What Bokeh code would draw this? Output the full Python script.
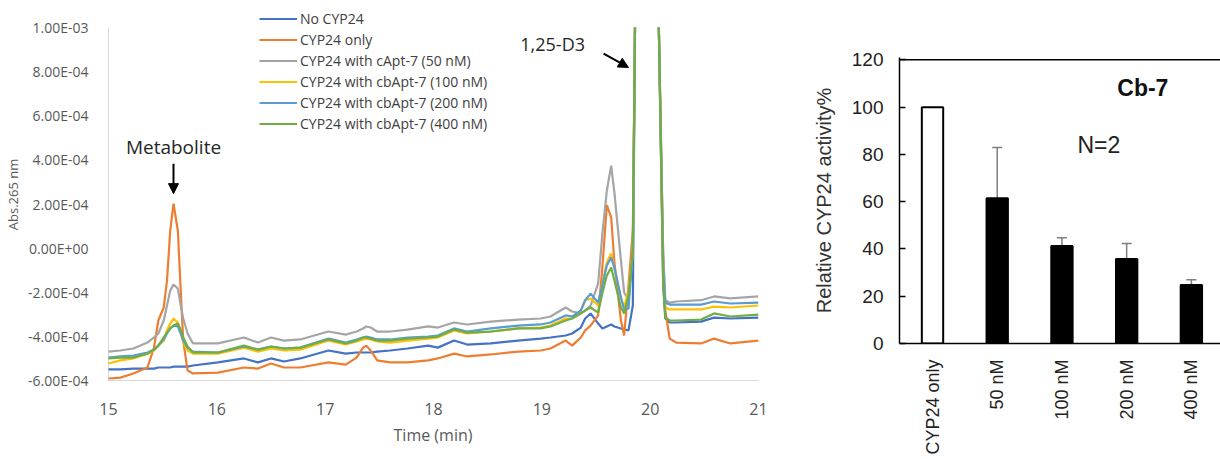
import math
from bokeh.plotting import figure
from bokeh.layouts import row, column
from bokeh.models import (ColumnDataSource, Range1d, FixedTicker, CustomJSTickFormatter,
                          Legend, LegendItem, Label, Arrow, NormalHead, Whisker, TeeHead,
                          Span)
from bokeh.embed import file_html
from bokeh.resources import INLINE

NAN = float("nan")  # apex of the 1,25-D3 peak is off scale (not visible)

# ---------------- data: chromatogram (Abs. 265 nm, in units of 1e-4) ----------------
time_min = [15.00, 15.11, 15.23, 15.36, 15.42, 15.46, 15.51, 15.54, 15.57, 15.60,
            15.64, 15.67, 15.69, 15.73, 15.78, 16.01, 16.25, 16.38, 16.50, 16.62,
            16.77, 17.03, 17.19, 17.29, 17.35, 17.38, 17.42, 17.48, 17.60, 17.76,
            17.95, 18.04, 18.19, 18.31, 18.53, 18.78, 18.99, 19.08, 19.22, 19.28,
            19.36, 19.40, 19.45, 19.52, 19.56, 19.60, 19.64, 19.67, 19.73, 19.76,
            19.80, 19.84, 19.86, 19.96, 20.04, 20.08, 20.12, 20.14, 20.18, 20.24,
            20.47, 20.59, 20.74, 21.00]

no_cyp24_e4 = [-5.50, -5.50, -5.46, -5.46, -5.46, -5.41, -5.41, -5.41, -5.41, -5.37,
               -5.37, -5.37, -5.37, -5.37, -5.32, -5.18, -5.00, -5.18, -5.00, -5.14,
               -5.00, -4.64, -4.78, -4.73, -4.73, -4.73, -4.73, -4.69, -4.64, -4.55,
               -4.42, -4.51, -4.19, -4.37, -4.32, -4.19, -4.10, -4.05, -3.96, -3.87,
               -3.60, -3.19, -2.96, -3.42, -3.64, -3.55, -3.46, -3.55, -3.64, -3.69,
               -3.73, -2.60, 10.0, NAN, NAN, 10.0, -1.70, -3.19, -3.37, -3.37,
               -3.33, -3.15, -3.19, -3.15]

cyp24_only_e4 = [-5.91, -5.87, -5.68, -5.41, -4.51, -3.28, -2.69, -1.47, 0.80, 2.02,
                 0.80, -2.24, -4.19, -5.55, -5.68, -5.64, -5.41, -5.46, -5.23, -5.41,
                 -5.41, -5.18, -5.28, -4.96, -4.51, -4.42, -4.64, -5.09, -5.18, -5.18,
                 -5.09, -5.00, -4.78, -4.91, -4.82, -4.69, -4.64, -4.55, -4.19, -4.42,
                 -4.05, -3.73, -3.51, -3.05, -0.79, 1.95, 1.40, -0.65, -3.28, -3.96,
                 -1.70, 0.80, 10.0, NAN, NAN, 10.0, -0.34, -2.83, -4.10, -4.28,
                 -4.32, -4.10, -4.32, -4.19]

capt7_50_e4 = [-4.69, -4.64, -4.55, -4.28, -4.05, -3.87, -3.28, -2.60, -1.92, -1.65,
               -1.83, -2.69, -3.19, -3.87, -4.32, -4.32, -4.05, -4.28, -4.05, -4.19,
               -4.14, -3.78, -3.92, -3.78, -3.64, -3.55, -3.60, -3.78, -3.78, -3.69,
               -3.55, -3.60, -3.37, -3.46, -3.33, -3.24, -3.19, -3.10, -2.69, -2.87,
               -2.96, -2.83, -2.60, -1.60, 0.71, 2.61, 3.74, 2.52, -0.56, -2.01,
               -2.36, -0.20, 10.0, NAN, NAN, 10.0, -0.11, -2.36, -2.47, -2.42,
               -2.36, -2.19, -2.28, -2.19]

cbapt7_100_e4 = [-5.23, -5.09, -5.00, -4.78, -4.64, -4.42, -4.19, -3.73, -3.42, -3.19,
                 -3.37, -3.87, -4.28, -4.64, -4.78, -4.78, -4.51, -4.69, -4.55, -4.64,
                 -4.60, -4.19, -4.37, -4.23, -4.14, -4.10, -4.14, -4.23, -4.28, -4.19,
                 -4.10, -4.05, -3.73, -3.87, -3.78, -3.64, -3.60, -3.51, -3.19, -3.19,
                 -2.83, -2.36, -2.28, -2.60, -1.56, -0.65, -0.24, -0.92, -2.24, -2.69,
                 -1.92, -0.11, 10.0, NAN, NAN, 10.0, -1.24, -2.69, -2.78, -2.78,
                 -2.78, -2.65, -2.69, -2.60]

cbapt7_200_e4 = [-4.96, -4.91, -4.87, -4.73, -4.60, -4.42, -4.14, -3.87, -3.64, -3.51,
                 -3.55, -3.92, -4.19, -4.51, -4.69, -4.73, -4.46, -4.60, -4.46, -4.55,
                 -4.51, -4.10, -4.28, -4.14, -4.05, -4.01, -4.05, -4.14, -4.14, -4.05,
                 -4.01, -3.96, -3.64, -3.78, -3.64, -3.51, -3.46, -3.37, -3.05, -3.10,
                 -2.83, -2.36, -2.06, -2.47, -1.65, -0.79, -0.43, -0.88, -2.24, -2.78,
                 -2.74, -0.11, 10.0, NAN, NAN, 10.0, -0.92, -2.47, -2.56, -2.56,
                 -2.56, -2.42, -2.51, -2.47]

cbapt7_400_e4 = [-5.00, -4.96, -4.96, -4.78, -4.60, -4.42, -4.05, -3.83, -3.64, -3.51,
                 -3.42, -3.73, -4.05, -4.46, -4.73, -4.73, -4.42, -4.60, -4.46, -4.55,
                 -4.51, -4.14, -4.32, -4.19, -4.05, -4.05, -4.10, -4.19, -4.19, -4.10,
                 -4.05, -4.01, -3.69, -3.83, -3.78, -3.64, -3.64, -3.55, -3.28, -3.19,
                 -2.96, -2.83, -2.69, -2.92, -2.01, -1.24, -0.88, -1.47, -2.69, -2.96,
                 -2.15, -0.20, 10.0, NAN, NAN, 10.0, -1.47, -3.15, -3.28, -3.28,
                 -3.24, -2.96, -3.10, -3.01]

series_names = ["No CYP24", "CYP24 only", "CYP24 with cApt-7 (50 nM)",
                "CYP24 with cbApt-7 (100 nM)", "CYP24 with cbApt-7 (200 nM)",
                "CYP24 with cbApt-7 (400 nM)"]
series_values = [no_cyp24_e4, cyp24_only_e4, capt7_50_e4, cbapt7_100_e4,
                 cbapt7_200_e4, cbapt7_400_e4]

x_ticks = [15, 16, 17, 18, 19, 20, 21]
y_ticks = [-6e-4, -4e-4, -2e-4, 0.0, 2e-4, 4e-4, 6e-4, 8e-4, 1e-3]
y_tick_labels = ["-6.00E-04", "-4.00E-04", "-2.00E-04", "0.00E+00", "2.00E-04",
                 "4.00E-04", "6.00E-04", "8.00E-04", "1.00E-03"]

# ---------------- data: relative activity bar chart ----------------
bar_labels = ["CYP24 only", "50 nM", "100 nM", "200 nM", "400 nM"]
activity = [100, 61.5, 41.3, 35.8, 24.8]
activity_err = [0, 21.4, 3.4, 6.5, 2.2]
activity_ticks = [0, 20, 40, 60, 80, 100, 120]

# ---------------- styles ----------------
line_colors = ["#4472C4", "#ED7D31", "#A5A5A5", "#FFC000", "#5B9BD5", "#70AD47"]
FONT_L = "Open Sans"
FONT_R = "Liberation Sans"
GRAY_TXT = "#595959"
AXIS_GRAY = "#D9D9D9"

# ================= left: chromatogram =================
p1 = figure(width=778, height=459, output_backend="svg", toolbar_location=None,
            x_range=Range1d(15 - 1 / 108.3, 21), y_range=Range1d(-6e-4, 1.0863e-3),
            min_border_left=107, min_border_right=20, min_border_top=8,
            min_border_bottom=79)
p1.xgrid.visible = False
p1.ygrid.visible = False
p1.outline_line_color = None

# vertical value axis line (only over the tick span)
p1.segment(x0=[x_ticks[0]], y0=[y_ticks[0]], x1=[x_ticks[0]], y1=[y_ticks[-1]],
           line_color=AXIS_GRAY, line_width=1)

renderers = []
for name, vals, col in zip(series_names, series_values, line_colors):
    src = ColumnDataSource(dict(t=time_min, a=[v * 1e-4 for v in vals]))
    r = p1.line("t", "a", source=src, line_color=col, line_width=2.2)
    renderers.append(r)

p1.xaxis.ticker = FixedTicker(ticks=x_ticks, minor_ticks=[])
p1.yaxis.ticker = FixedTicker(ticks=y_ticks, minor_ticks=[])
p1.yaxis.formatter = CustomJSTickFormatter(
    args=dict(tick_vals=y_ticks, tick_texts=y_tick_labels), code="""
    let b = 0;
    for (let i = 0; i < tick_vals.length; i++) {
        if (Math.abs(tick_vals[i] - tick) < Math.abs(tick_vals[b] - tick)) { b = i; }
    }
    return tick_texts[b];
""")
for ax in (p1.xaxis[0], p1.yaxis[0]):
    ax.major_tick_line_color = None
    ax.minor_tick_line_color = None
    ax.major_label_text_font = FONT_L
    ax.major_label_text_color = GRAY_TXT
    ax.axis_label_text_font = FONT_L
    ax.axis_label_text_color = GRAY_TXT
    ax.axis_label_text_font_style = "normal"
p1.xaxis.axis_line_color = AXIS_GRAY
p1.xaxis.axis_line_width = 1
p1.yaxis.axis_line_color = None

p1.xaxis.major_label_text_font_size = "16px"
p1.xaxis.major_label_standoff = 16
p1.xaxis.axis_label = "Time (min)"
p1.xaxis.axis_label_text_font_size = "16px"
p1.xaxis.axis_label_standoff = 6

p1.yaxis.major_label_text_font_size = "14px"
p1.yaxis.major_label_standoff = 13
p1.yaxis.axis_label = "Abs.265 nm"
p1.yaxis.axis_label_text_font_size = "13px"
p1.yaxis.axis_label_standoff = 3

legend = Legend(items=[LegendItem(label=n, renderers=[r]) for n, r in zip(series_names, renderers)],
                location=(152, 246))
legend.label_text_font = FONT_L
legend.label_text_font_size = "14px"
legend.label_text_color = "#404040"
legend.glyph_width = 38
legend.glyph_height = 21
legend.label_height = 21
legend.spacing = 0
legend.padding = 0
legend.margin = 0
legend.label_standoff = 3
legend.border_line_color = None
legend.background_fill_alpha = 0
p1.add_layout(legend)

p1.add_layout(Label(x=15.6, y=4.6e-4, text="Metabolite", text_align="center",
                    text_baseline="middle", text_font=FONT_L, text_font_size="19px",
                    text_color="#262626"))
p1.add_layout(Arrow(end=NormalHead(size=10, fill_color="black", line_color="black"),
                    x_start=15.6, y_start=3.83e-4, x_end=15.6, y_end=2.47e-4,
                    line_color="black", line_width=2))
p1.add_layout(Label(x=19.10, y=9.27e-4, text="1,25-D3", text_align="center",
                    text_baseline="middle", text_font=FONT_L, text_font_size="18px",
                    text_color="#262626"))
p1.add_layout(Arrow(end=NormalHead(size=10, fill_color="black", line_color="black"),
                    x_start=19.57, y_start=8.82e-4, x_end=19.80, y_end=8.19e-4,
                    line_color="black", line_width=2))

# ================= right: bar chart =================
p2 = figure(width=442, height=459, output_backend="svg", toolbar_location=None,
            x_range=Range1d(-0.51, 4.45), y_range=Range1d(0, 121),
            min_border_left=121, min_border_right=0, min_border_top=57,
            min_border_bottom=116)
p2.xgrid.visible = False
p2.ygrid.visible = False
p2.outline_line_color = None

xs = list(range(len(bar_labels)))
fills = ["white" if lab == "CYP24 only" else "black" for lab in bar_labels]
bsrc = ColumnDataSource(dict(x=xs, top=activity, fill=fills))
p2.vbar(x="x", top="top", width=0.33, source=bsrc, fill_color="fill",
        line_color="black", line_width=2)

err_idx = [i for i, e in enumerate(activity_err) if e > 0]
wsrc = ColumnDataSource(dict(
    base=[xs[i] for i in err_idx],
    upper=[activity[i] + activity_err[i] for i in err_idx],
    lower=[activity[i] - activity_err[i] for i in err_idx]))
p2.add_layout(Whisker(source=wsrc, base="base", upper="upper", lower="lower",
                      line_color="#7F7F7F", line_width=1.5,
                      upper_head=TeeHead(size=10, line_color="#7F7F7F", line_width=1.5),
                      lower_head=TeeHead(size=10, line_color="#7F7F7F", line_width=1.5)))

p2.add_layout(Span(location=activity_ticks[-1], dimension="width", line_color="black",
                   line_width=1.5))

p2.yaxis.ticker = FixedTicker(ticks=activity_ticks, minor_ticks=[])
p2.yaxis.axis_line_color = "black"
p2.yaxis.axis_line_width = 1.5
p2.yaxis.major_tick_in = 6
p2.yaxis.major_tick_out = 0
p2.yaxis.major_tick_line_color = "black"
p2.yaxis.major_tick_line_width = 1.5
p2.yaxis.minor_tick_line_color = None
p2.yaxis.major_label_text_font = FONT_R
p2.yaxis.major_label_text_font_size = "19px"
p2.yaxis.major_label_text_color = "#222222"
p2.yaxis.major_label_standoff = 16
p2.yaxis.axis_label = "Relative CYP24 activity%"
p2.yaxis.axis_label_text_font = FONT_R
p2.yaxis.axis_label_text_font_size = "20px"
p2.yaxis.axis_label_text_font_style = "normal"
p2.yaxis.axis_label_text_color = "#333333"
p2.yaxis.axis_label_standoff = 14

p2.xaxis.ticker = FixedTicker(ticks=xs, minor_ticks=[])
p2.xaxis.formatter = CustomJSTickFormatter(args=dict(cat_texts=bar_labels), code="""
    return cat_texts[Math.round(tick)];
""")
p2.xaxis.axis_line_color = "black"
p2.xaxis.axis_line_width = 1.5
p2.xaxis.major_tick_line_color = None
p2.xaxis.minor_tick_line_color = None
p2.xaxis.major_label_orientation = math.pi / 2
p2.xaxis.major_label_standoff = 10
p2.xaxis.major_label_text_font = FONT_R
p2.xaxis.major_label_text_font_size = "18px"
p2.xaxis.major_label_text_color = "#222222"

p2.add_layout(Label(x=3.25, y=108.2, text="Cb-7", text_align="center", text_baseline="middle",
                    text_font=FONT_R, text_font_size="23px", text_font_style="bold",
                    text_color="#111111"))
p2.add_layout(Label(x=2.57, y=84.1, text="N=2", text_align="center", text_baseline="middle",
                    text_font=FONT_R, text_font_size="23px", text_color="#222222"))

layout = row(column(p1), column(p2))
open("out.html", "w").write(file_html(layout, INLINE))
